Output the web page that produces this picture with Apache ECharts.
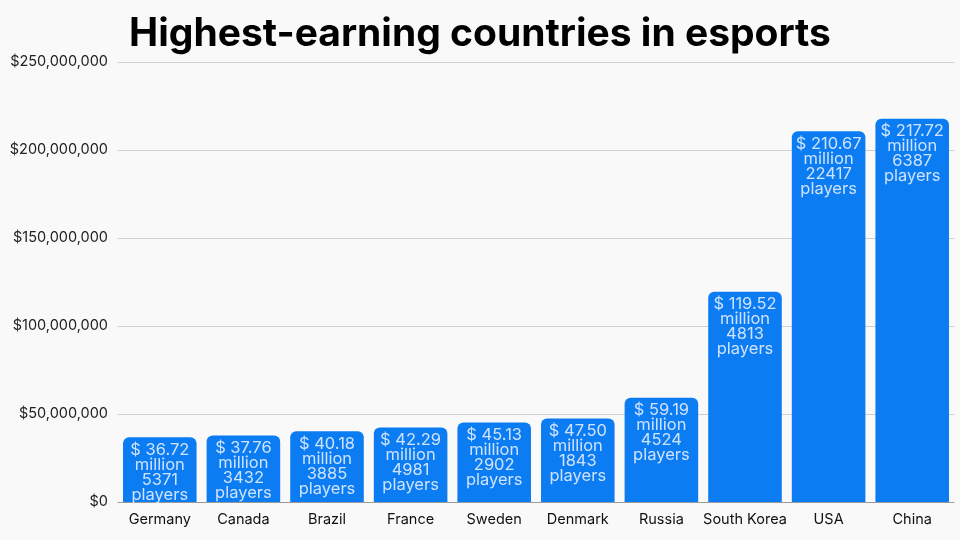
<!DOCTYPE html>
<html>
<head>
<meta charset="utf-8">
<script src="https://cdn.jsdelivr.net/npm/echarts@6/dist/echarts.min.js"></script>
<style>
  html, body { margin: 0; padding: 0; background: #f9f9f9; }
  #chart { width: 960px; height: 540px; }
</style>
</head>
<body>
<div id="chart"></div>
<script>
const countries = ['Germany', 'Canada', 'Brazil', 'France', 'Sweden', 'Denmark', 'Russia', 'South Korea', 'USA', 'China'];
const earningsMillions = [36.72, 37.76, 40.18, 42.29, 45.13, 47.50, 59.19, 119.52, 210.67, 217.72];
const players = [5371, 3432, 3885, 4981, 2902, 1843, 4524, 4813, 22417, 6387];

const chart = echarts.init(document.getElementById('chart'));

const fmtDollar = v => '$' + v.toLocaleString('en-US');

chart.setOption({
  backgroundColor: '#f9f9f9',
  textStyle: { fontFamily: 'Inter' },
  title: {
    text: 'Highest-earning countries in esports',
    left: 'center',
    top: 10,
    textStyle: { fontFamily: 'Inter', fontSize: 39, fontWeight: 'bold', color: '#000' }
  },
  grid: { left: 118, right: 6, top: 62, bottom: 38 },
  xAxis: {
    type: 'category',
    data: countries,
    axisTick: { show: false },
    axisLine: { lineStyle: { color: '#999', width: 1 } },
    axisLabel: { color: '#111', fontSize: 14.5, margin: 10, interval: 0 }
  },
  yAxis: {
    type: 'value',
    min: 0,
    max: 250000000,
    interval: 50000000,
    axisLabel: { formatter: fmtDollar, color: '#222', fontSize: 14.5, margin: 10 },
    splitLine: { lineStyle: { color: '#cfcfcf' } }
  },
  series: [{
    type: 'bar',
    data: earningsMillions.map(v => v * 1e6),
    barCategoryGap: '12%',
    itemStyle: { color: '#0b7cf2', borderRadius: [6, 6, 0, 0] },
    label: {
      show: true,
      position: 'insideTop',
      distance: 5,
      color: '#cfe2ff',
      fontSize: 16.5,
      lineHeight: 15,
      formatter: p => '$ ' + earningsMillions[p.dataIndex].toFixed(2) + '\nmillion\n' + players[p.dataIndex] + '\nplayers'
    }
  }]
});
</script>
</body>
</html>
